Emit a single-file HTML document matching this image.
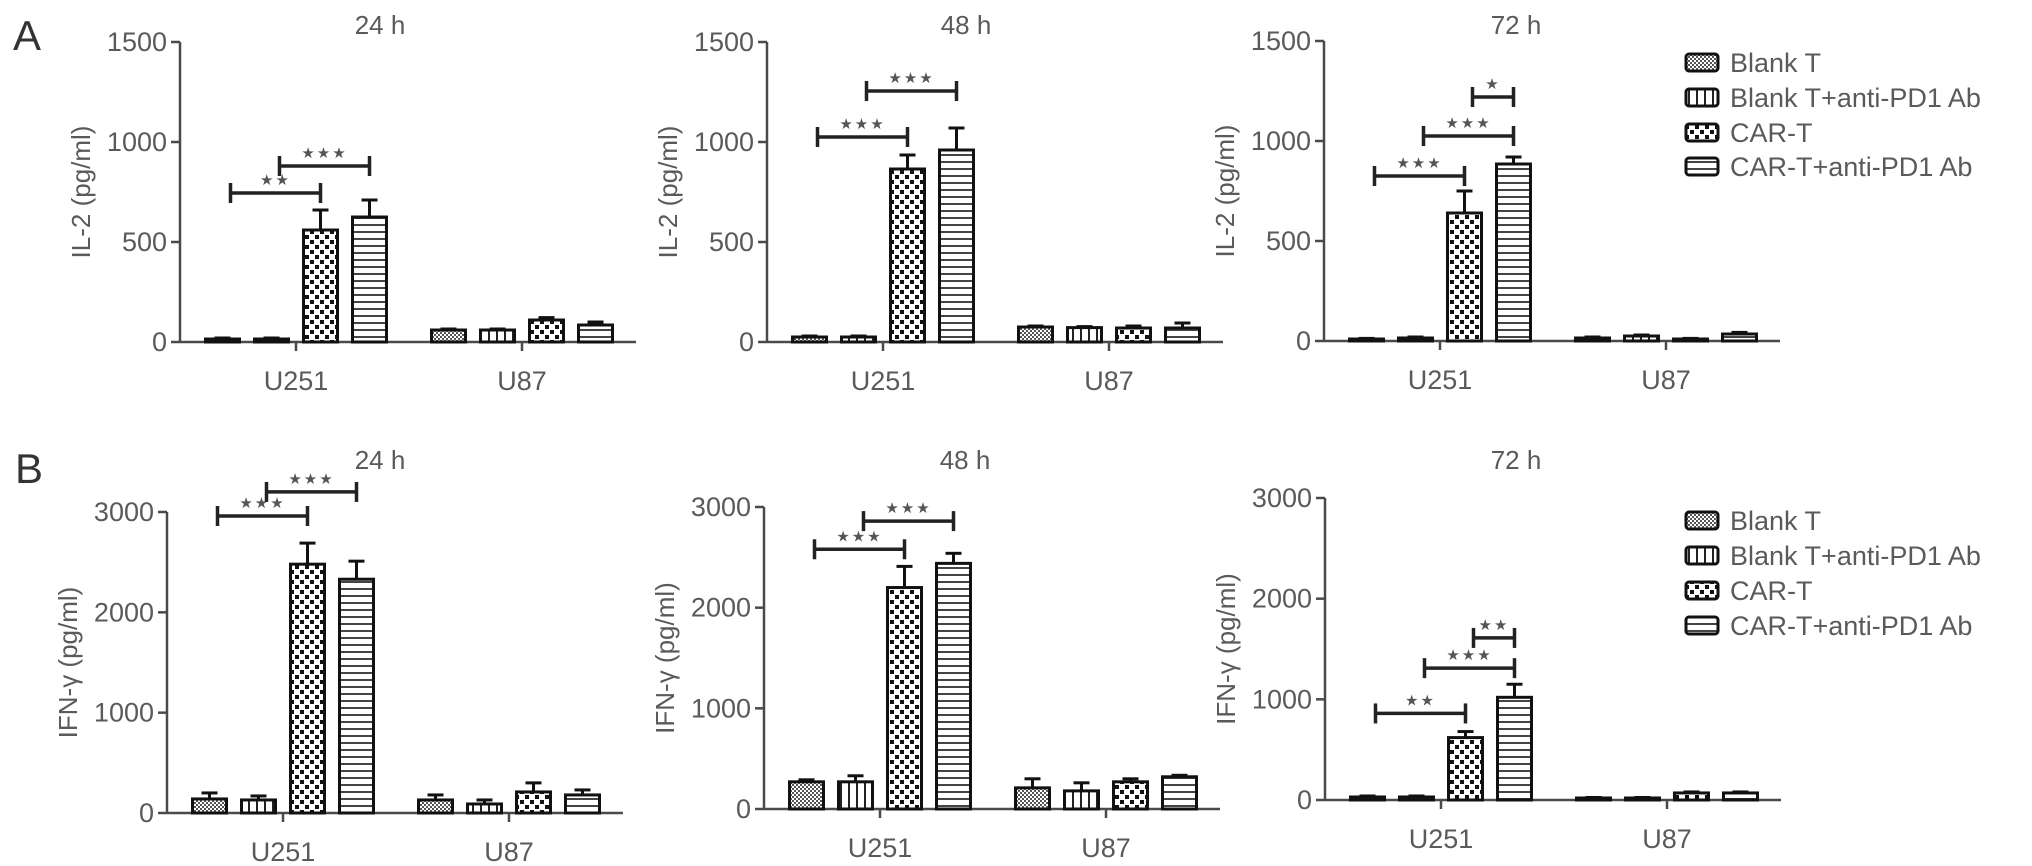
<!DOCTYPE html>
<html><head><meta charset="utf-8">
<style>
html,body{margin:0;padding:0;background:#fff;}
svg{display:block;font-family:"Liberation Sans",Arial,sans-serif;}
</style></head>
<body>
<svg id="fig" width="2032" height="866" viewBox="0 0 2032 866" xmlns="http://www.w3.org/2000/svg">
<defs>
<pattern id="p0" width="4" height="4" patternUnits="userSpaceOnUse"><rect width="4" height="4" fill="#fff"/><rect width="2" height="2" fill="#555"/><rect x="2" y="2" width="2" height="2" fill="#555"/></pattern>
<pattern id="p1" width="8" height="8" patternUnits="userSpaceOnUse"><rect width="8" height="8" fill="#fff"/><rect x="0" width="2" height="8" fill="#222"/></pattern>
<pattern id="p2" width="10" height="10" patternUnits="userSpaceOnUse"><rect width="10" height="10" fill="#fff"/><rect x="0" y="0" width="4" height="4" fill="#111"/><rect x="5" y="5" width="4" height="4" fill="#111"/></pattern>
<pattern id="p3" width="8" height="7" patternUnits="userSpaceOnUse"><rect width="8" height="7" fill="#fff"/><rect y="0" width="8" height="2" fill="#444"/></pattern>
</defs>
<g id="root"></g>
</svg>
<script>
const categories = ['U251','U87'];
const seriesNames = ['Blank T','Blank T+anti-PD1 Ab','CAR-T','CAR-T+anti-PD1 Ab'];
const il2TickLabels = [0,500,1000,1500];
const ifnTickLabels = [0,1000,2000,3000];
// values ordered: U251 x4 series, U87 x4 series
const il2_24h = [15,15,560,625, 60,60,110,85];
const il2_24h_err = [5,5,100,85, 5,5,12,15];
const il2_48h = [25,25,865,960, 75,72,70,70];
const il2_48h_err = [5,5,70,110, 5,5,10,25];
const il2_72h = [10,15,640,885, 15,25,10,35];
const il2_72h_err = [3,5,110,35, 5,5,3,8];
const ifn_24h = [140,130,2480,2330, 130,90,210,180];
const ifn_24h_err = [60,40,210,180, 50,40,90,50];
const ifn_48h = [270,270,2200,2440, 210,180,270,320];
const ifn_48h_err = [20,60,210,100, 90,80,30,15];
const ifn_72h = [30,30,620,1020, 20,20,70,70];
const ifn_72h_err = [10,10,60,130, 5,5,10,10];
// brackets: [fromSeries, toSeries, yValue, label] (U251 group)
const br_il2_24h = [[0,2,745,'**'],[1,3,880,'***']];
const br_il2_48h = [[0,2,1025,'***'],[1,3,1255,'***']];
const br_il2_72h = [[0,2,825,'***'],[1,3,1025,'***'],[2,3,1220,'*']];
const br_ifn_24h = [[0,2,2960,'***'],[1,3,3200,'***']];
const br_ifn_48h = [[0,2,2580,'***'],[1,3,2860,'***']];
const br_ifn_72h = [[0,2,860,'**'],[1,3,1310,'***'],[2,3,1610,'**']];

const NS='http://www.w3.org/2000/svg';
const root=document.getElementById('root');
function mk(tag,attrs,parent){const e=document.createElementNS(NS,tag);for(const k in attrs)e.setAttribute(k,attrs[k]);(parent||root).appendChild(e);return e;}
function txt(s,attrs,parent){const e=mk('text',attrs,parent);e.textContent=s;return e;}

const panels=[
 {id:'il2-24h',title:'24 h',tx:380,ty:25,ax:180,top:42,base:342,max:1500,ticks:il2TickLabels,ylab:'IL-2 (pg/ml)',v:il2_24h,e:il2_24h_err,b:br_il2_24h},
 {id:'il2-48h',title:'48 h',tx:966,ty:25,ax:767,top:42,base:342,max:1500,ticks:il2TickLabels,ylab:'IL-2 (pg/ml)',v:il2_48h,e:il2_48h_err,b:br_il2_48h},
 {id:'il2-72h',title:'72 h',tx:1516,ty:25,ax:1324,top:41,base:341,max:1500,ticks:il2TickLabels,ylab:'IL-2 (pg/ml)',v:il2_72h,e:il2_72h_err,b:br_il2_72h},
 {id:'ifn-24h',title:'24 h',tx:380,ty:460,ax:167,top:512,base:813,max:3000,ticks:ifnTickLabels,ylab:'IFN-γ (pg/ml)',v:ifn_24h,e:ifn_24h_err,b:br_ifn_24h},
 {id:'ifn-48h',title:'48 h',tx:965,ty:460,ax:764,top:507,base:809,max:3000,ticks:ifnTickLabels,ylab:'IFN-γ (pg/ml)',v:ifn_48h,e:ifn_48h_err,b:br_ifn_48h},
 {id:'ifn-72h',title:'72 h',tx:1516,ty:460,ax:1325,top:498,base:800,max:3000,ticks:ifnTickLabels,ylab:'IFN-γ (pg/ml)',v:ifn_72h,e:ifn_72h_err,b:br_ifn_72h}
];
const groupOff=[116,342], axisLen=456, step=49, bw=34;
const TXT='#5a5a5a', AX='#4a4a4a';

panels.forEach(p=>{
  const g=mk('g',{});
  
  
  const y=v=>p.base-(v/p.max)*(p.base-p.top);
  const barX=(gi,si)=>p.ax+groupOff[gi]+(si-1.5)*step;
  const t=txt(p.title,{x:p.tx,y:p.ty+9,'font-size':26,fill:TXT,'text-anchor':'middle'},g);
  
  
  const yl=txt(p.ylab,{x:0,y:0,'font-size':26,fill:TXT,'text-anchor':'middle',transform:`translate(${p.ax-90},${(p.top+p.base)/2}) rotate(-90)`},g);
  
  
  const ya=mk('line',{x1:p.ax,y1:p.top,x2:p.ax,y2:p.base,stroke:AX,'stroke-width':2.5},g);
  
  
  p.ticks.forEach(tv=>{
    mk('line',{x1:p.ax-9,y1:y(tv),x2:p.ax,y2:y(tv),stroke:AX,'stroke-width':2.5},g);
    const tl=txt(String(tv),{x:p.ax-13,y:y(tv)+9,'font-size':27,fill:TXT,'text-anchor':'end'},g);
    
    
  });
  const xa=mk('line',{x1:p.ax,y1:p.base,x2:p.ax+axisLen,y2:p.base,stroke:AX,'stroke-width':2.5},g);
  
  
  categories.forEach((c,gi)=>{
    const cx=p.ax+groupOff[gi];
    mk('line',{x1:cx,y1:p.base,x2:cx,y2:p.base+9,stroke:AX,'stroke-width':2.5},g);
    const cl=txt(c,{x:cx,y:p.base+48,'font-size':27,fill:TXT,'text-anchor':'middle'},g);
    
    
    for(let si=0;si<4;si++){
      const val=p.v[gi*4+si], er=p.e[gi*4+si];
      const cxb=barX(gi,si);
      const ey=y(val+er);
      const el=mk('line',{x1:cxb,y1:y(val),x2:cxb,y2:ey,stroke:'#111','stroke-width':3},g);
      
      
      mk('line',{x1:cxb-8,y1:ey,x2:cxb+8,y2:ey,stroke:'#111','stroke-width':3},g);
      const r=mk('rect',{x:cxb-bw/2,y:y(val),width:bw,height:Math.max(p.base-y(val),1),fill:`url(#p${si})`,stroke:'#111','stroke-width':3},g);
      
      
    }
  });
  p.b.forEach(b=>{
    const x1=barX(0,b[0])+8, x2=barX(0,b[1]), by=y(b[2]);
    const bg=mk('g',{},g);
    
    
    mk('line',{x1:x1,y1:by,x2:x2,y2:by,stroke:'#222','stroke-width':3.5},bg);
    mk('line',{x1:x1,y1:by-10,x2:x1,y2:by+10,stroke:'#222','stroke-width':3.5},bg);
    mk('line',{x1:x2,y1:by-10,x2:x2,y2:by+10,stroke:'#222','stroke-width':3.5},bg);
    txt(b[3].replace(/\*/g,'★'),{x:(x1+x2)/2,y:by-8,'font-size':15,fill:'#555','text-anchor':'middle','letter-spacing':2,'font-family':'DejaVu Sans, sans-serif'},bg);
  });
});

// panel letters
const la=txt('A',{x:13,y:50,'font-size':42,fill:'#333'});


const lb=txt('B',{x:15,y:483,'font-size':42,fill:'#333'});



// legends
[[62,97,132,166],[520,555,590,625]].forEach((rows,li)=>{
  const lg=mk('g',{});
  
  
  seriesNames.forEach((n,si)=>{
    const e=mk('g',{},lg);
    
    
    mk('rect',{x:1686,y:rows[si]-8,width:32,height:17,rx:3,fill:`url(#p${si})`,stroke:'#111','stroke-width':3},e);
    txt(n,{x:1730,y:rows[si]+10,'font-size':27,fill:TXT},e);
  });
});
</script>
</body></html>
